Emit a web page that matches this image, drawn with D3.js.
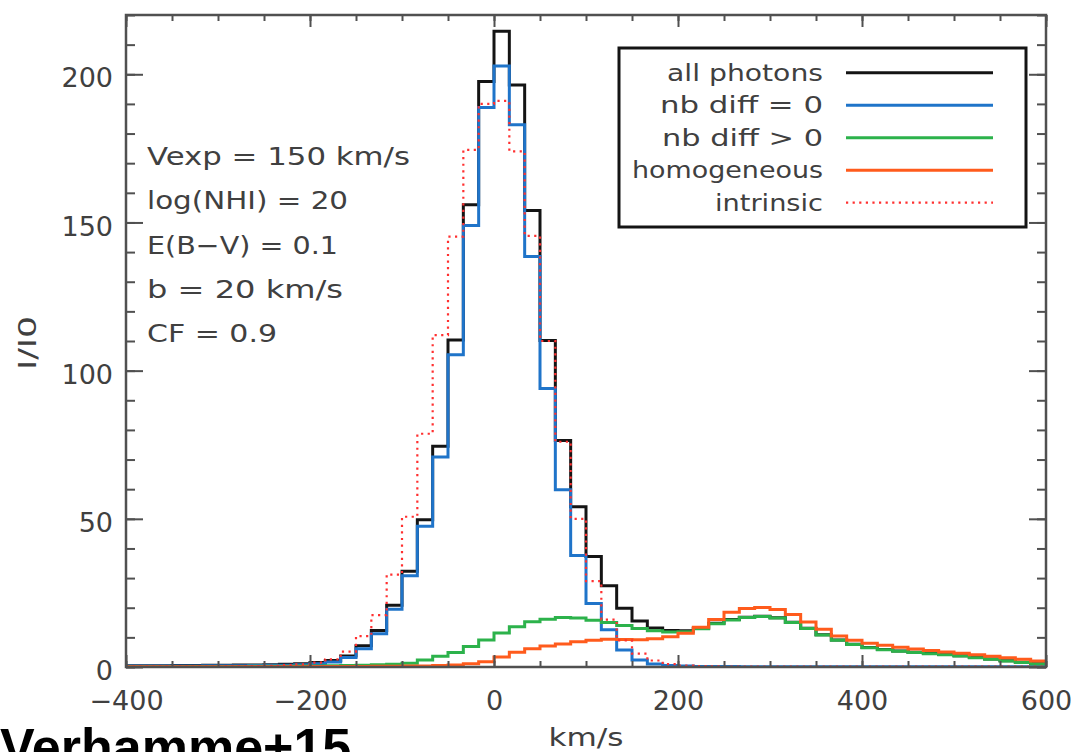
<!DOCTYPE html>
<html>
<head>
<meta charset="utf-8">
<script src="https://cdn.jsdelivr.net/npm/d3@7"></script>
<style>
  html, body { margin: 0; padding: 0; background: #fff; }
  svg { display: block; }
  text { font-family: "DejaVu Sans", sans-serif; }
</style>
</head>
<body>
<svg id="chart" width="1071" height="752"></svg>
<script>
// Velocity histogram: 60 bins spanning -400 .. 600 km/s
const velMin = -400;
const velMax = 600;
const nBins = 60;

const allPhotons = [
  0.4, 0.4, 0.4, 0.5, 0.5, 0.6, 0.6, 0.7, 0.7, 0.8, 0.9, 1.1, 1.5,
  2.2, 3.7, 7.2, 12.3, 20.8, 32.3, 49.7, 74.5, 110.3, 156.0, 197.6, 214.5,
  196.4, 154.0, 110.2, 76.4, 54.1, 37.3, 27.4, 19.8, 15.5, 13.2, 12.3, 12.2,
  13.1, 14.8, 16.0, 16.8, 17.1, 16.6, 15.1, 13.1, 10.9, 9.1, 7.7, 6.6, 5.9,
  5.4, 5.0, 4.6, 4.2, 3.8, 3.2, 2.7, 2.1, 1.6, 1.1
];

const nbDiffZero = [
  0.3, 0.3, 0.3, 0.35, 0.35, 0.4, 0.4, 0.45, 0.5, 0.55, 0.6, 0.8, 1.1,
  1.7, 3.2, 6.2, 11.2, 19.5, 30.8, 47.5, 70.9, 105.4, 149.0, 188.8, 202.8,
  183.0, 138.5, 94.0, 59.8, 37.6, 21.4, 12.6, 5.7, 2.4, 1.0, 0.5, 0.3, 0.2,
  0.15, 0.15, 0.1, 0.1, 0.1, 0.1, 0.1, 0.1, 0.1, 0.1, 0.1, 0.1, 0.1, 0.1,
  0.1, 0.1, 0.1, 0.1, 0.1, 0.1, 0.1, 0.1
];

const nbDiffPos = [
  0.1, 0.1, 0.1, 0.12, 0.14, 0.16, 0.18, 0.2, 0.22, 0.25, 0.28, 0.32, 0.36,
  0.42, 0.5, 0.6, 0.72, 0.9, 1.3, 2.4, 3.6, 4.9, 6.9, 9.1, 11.5, 13.6, 15.3,
  16.1, 16.7, 16.5, 15.8, 15.0, 14.0, 13.0, 12.2, 11.8, 11.9, 12.9, 14.6,
  15.9, 16.7, 17.0, 16.5, 15.0, 13.0, 10.8, 9.0, 7.6, 6.5, 5.8, 5.3, 4.9,
  4.5, 4.1, 3.7, 3.1, 2.6, 2.0, 1.5, 1.0
];

const homogeneous = [
  0.1, 0.1, 0.1, 0.1, 0.1, 0.1, 0.1, 0.1, 0.1, 0.1, 0.1, 0.12, 0.14, 0.16,
  0.18, 0.2, 0.22, 0.26, 0.3, 0.35, 0.5, 0.7, 1.1, 1.8, 3.4, 5.0, 6.2, 7.1,
  7.8, 8.5, 9.0, 9.4, 9.3, 9.2, 9.5, 10.2, 11.4, 13.4, 16.0, 18.5, 19.7,
  20.1, 19.4, 17.7, 15.2, 12.7, 10.5, 9.0, 8.0, 7.3, 6.7, 6.1, 5.6, 5.1,
  4.6, 4.1, 3.6, 3.1, 2.6, 2.0
];

const intrinsic = [
  0.1, 0.1, 0.1, 0.1, 0.15, 0.15, 0.2, 0.25, 0.3, 0.4, 0.6, 0.9,
  1.5, 2.6, 5.2, 10.4, 17.5, 31.2, 50.7, 78.7, 112.0, 145.2, 174.5, 190.0,
  191.0, 174.0, 145.5, 110.0, 76.0, 50.0, 29.0, 16.0, 9.0, 4.5, 2.2, 1.0,
  0.5, 0.3, 0.2, 0.15, 0.15, 0.1, 0.1, 0.1, 0.1, 0.1, 0.1, 0.1, 0.1, 0.1,
  0.1, 0.1, 0.1, 0.1, 0.1, 0.1, 0.1, 0.1, 0.1, 0.1
];

const xTicks = [-400, -200, 0, 200, 400, 600];
const yTicks = [0, 50, 100, 150, 200];
const legendLabels = ["all photons", "nb diff = 0", "nb diff > 0", "homogeneous", "intrinsic"];
const paramLines = ["Vexp = 150 km/s", "log(NHI) = 20", "E(B\u2212V) = 0.1", "b = 20 km/s", "CF = 0.9"];

// ---- layout ----
const W = 1071, H = 752;
const plot = { left: 126, right: 1046, top: 15, bottom: 667 };
const svg = d3.select("#chart");

const x = d3.scaleLinear().domain([velMin, velMax]).range([plot.left, plot.right]);
const y = d3.scaleLinear().domain([0, 220]).range([plot.bottom, plot.top]);

const binWidth = (velMax - velMin) / nBins;
const edges = d3.range(nBins + 1).map(i => velMin + i * binWidth);

const series = [
  { name: legendLabels[0], values: allPhotons,  color: "#141414", width: 3,   dash: null },
  { name: legendLabels[1], values: nbDiffZero,  color: "#1f74c9", width: 3,   dash: null },
  { name: legendLabels[2], values: nbDiffPos,   color: "#2cb24b", width: 3,   dash: null },
  { name: legendLabels[3], values: homogeneous, color: "#ff5b1c", width: 3,   dash: null },
  { name: legendLabels[4], values: intrinsic,   color: "#ff3030", width: 2.2, dash: "2.2,4.4" }
];

svg.append("rect").attr("width", W).attr("height", H).attr("fill", "#fff");

svg.append("defs").append("clipPath").attr("id", "plotClip")
  .append("rect")
  .attr("x", plot.left).attr("y", plot.top - 2)
  .attr("width", plot.right - plot.left).attr("height", plot.bottom - plot.top + 2);

// ---- histogram step lines ----
const stepLine = d3.line()
  .x(d => x(d[0]))
  .y(d => y(d[1]))
  .curve(d3.curveStepAfter);

const dataG = svg.append("g").attr("clip-path", "url(#plotClip)");
series.forEach(s => {
  const pts = s.values.map((v, i) => [edges[i], v]);
  pts.push([edges[nBins], s.values[nBins - 1]]);
  dataG.append("path")
    .attr("d", stepLine(pts))
    .attr("fill", "none")
    .attr("stroke", s.color)
    .attr("stroke-width", s.width)
    .attr("stroke-linejoin", "miter")
    .attr("stroke-dasharray", s.dash);
});

// ---- axes (IDL style box, inward ticks) ----
const axisColor = "#505050";
const labelColor = "#404040";
const xMinor = d3.range(velMin, velMax + 1, 50);
const yMinor = d3.range(0, 221, 10);

function styleAxis(g) {
  g.select(".domain").remove();
  g.selectAll(".tick line").attr("stroke", axisColor).attr("stroke-width", 2);
  g.selectAll(".tick text").attr("fill", labelColor)
    .style("font-family", "'DejaVu Sans', sans-serif").style("font-size", "27px");
}

// bottom
svg.append("g").attr("transform", `translate(0,${plot.bottom})`)
  .call(d3.axisBottom(x).tickValues(xMinor).tickSize(-6).tickFormat(""))
  .call(styleAxis);
svg.append("g").attr("transform", `translate(0,${plot.bottom})`)
  .call(d3.axisBottom(x).tickValues(xTicks).tickSize(-12).tickPadding(24)
    .tickFormat(d => d < 0 ? "\u2212" + Math.abs(d) : String(d)))
  .call(styleAxis);
// top
svg.append("g").attr("transform", `translate(0,${plot.top})`)
  .call(d3.axisTop(x).tickValues(xMinor).tickSize(-6).tickFormat(""))
  .call(styleAxis);
svg.append("g").attr("transform", `translate(0,${plot.top})`)
  .call(d3.axisTop(x).tickValues(xTicks).tickSize(-12).tickFormat(""))
  .call(styleAxis);
// left
svg.append("g").attr("transform", `translate(${plot.left},0)`)
  .call(d3.axisLeft(y).tickValues(yMinor).tickSize(-9).tickFormat(""))
  .call(styleAxis);
const yAx = svg.append("g").attr("transform", `translate(${plot.left},0)`)
  .call(d3.axisLeft(y).tickValues(yTicks).tickSize(-17).tickPadding(13).tickFormat(d3.format("d")))
  .call(styleAxis);
yAx.selectAll(".tick text").attr("dy", "0.47em");
// right
svg.append("g").attr("transform", `translate(${plot.right},0)`)
  .call(d3.axisRight(y).tickValues(yMinor).tickSize(-9).tickFormat(""))
  .call(styleAxis);
svg.append("g").attr("transform", `translate(${plot.right},0)`)
  .call(d3.axisRight(y).tickValues(yTicks).tickSize(-17).tickFormat(""))
  .call(styleAxis);

svg.append("rect")
  .attr("x", plot.left).attr("y", plot.top)
  .attr("width", plot.right - plot.left).attr("height", plot.bottom - plot.top)
  .attr("fill", "none").attr("stroke", axisColor).attr("stroke-width", 2.5);

// axis titles
svg.append("text")
  .attr("x", (plot.left + plot.right) / 2).attr("y", 746)
  .attr("text-anchor", "middle")
  .attr("textLength", 75).attr("lengthAdjust", "spacingAndGlyphs")
  .attr("fill", labelColor).style("font-size", "24px")
  .text("km/s");

svg.append("text")
  .attr("transform", "translate(36,343) rotate(-90)")
  .attr("text-anchor", "middle")
  .attr("textLength", 54).attr("lengthAdjust", "spacingAndGlyphs")
  .attr("fill", labelColor).style("font-size", "25px")
  .text("I/I0");

// ---- model parameters ----
const paramWidths = [263, 201, 191, 196, 130];
paramLines.forEach((t, i) => {
  svg.append("text")
    .attr("x", 147).attr("y", 165 + i * 44.3)
    .attr("textLength", paramWidths[i]).attr("lengthAdjust", "spacingAndGlyphs")
    .attr("fill", labelColor).style("font-size", "25px")
    .text(t);
});

// ---- legend ----
const legend = { x: 619, y: 48, w: 407, h: 179, row0: 72.7, rowStep: 32.5 };
svg.append("rect")
  .attr("x", legend.x).attr("y", legend.y).attr("width", legend.w).attr("height", legend.h)
  .attr("fill", "#fff").attr("stroke", "#141414").attr("stroke-width", 3);
const legendTextWidths = [156, 163, 161, 191, 108];
series.forEach((s, i) => {
  const yy = legend.row0 + i * legend.rowStep;
  svg.append("line")
    .attr("x1", 846).attr("x2", 993).attr("y1", yy).attr("y2", yy)
    .attr("stroke", s.color).attr("stroke-width", s.width)
    .attr("stroke-dasharray", s.dash);
  svg.append("text")
    .attr("x", 823).attr("y", yy + 8)
    .attr("text-anchor", "end")
    .attr("textLength", legendTextWidths[i]).attr("lengthAdjust", "spacingAndGlyphs")
    .attr("fill", labelColor).style("font-size", "23px")
    .text(s.name);
});

// ---- reference tag along the bottom edge ----
svg.append("text")
  .attr("x", 0).attr("y", 765)
  .attr("fill", "#000")
  .style("font-family", "'Liberation Sans', Arial, sans-serif")
  .style("font-weight", "bold").style("font-size", "52px")
  .text("Verhamme+15");
</script>
</body>
</html>
